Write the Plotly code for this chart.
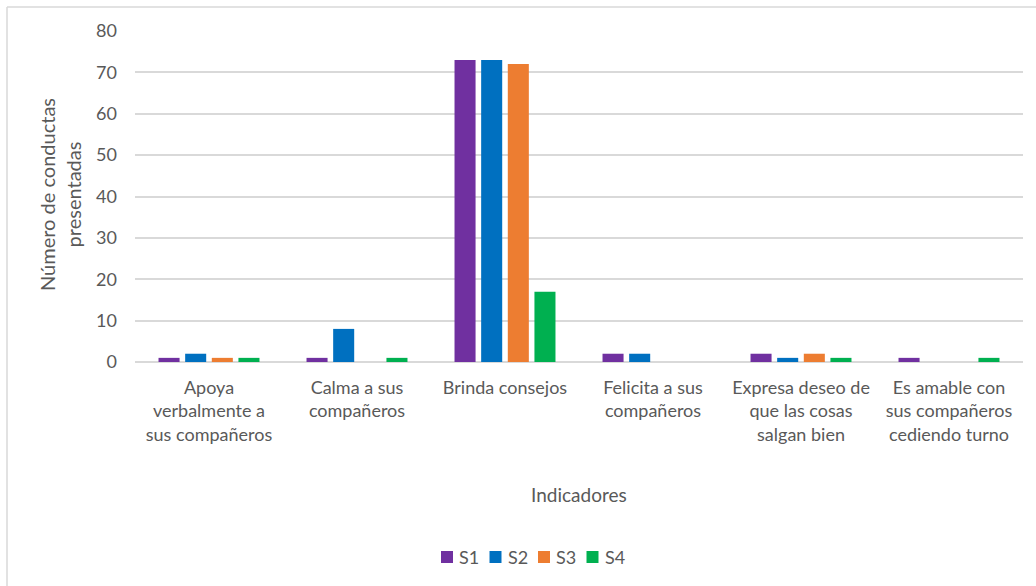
import plotly.graph_objects as go

# Indicadores observados y número de conductas por sesión
categorias = [
    "Apoya<br>verbalmente a<br>sus compañeros",
    "Calma a sus<br>compañeros",
    "Brinda consejos",
    "Felicita a sus<br>compañeros",
    "Expresa deseo de<br>que las cosas<br>salgan bien",
    "Es amable con<br>sus compañeros<br>cediendo turno",
]
s1 = [1, 1, 73, 2, 2, 1]
s2 = [2, 8, 73, 2, 1, 0]
s3 = [1, 0, 72, 0, 2, 0]
s4 = [1, 1, 17, 0, 1, 1]

series = [("S1", s1, "#7030A0"), ("S2", s2, "#0070C0"),
          ("S3", s3, "#ED7D31"), ("S4", s4, "#00B050")]

FONT = "Lato, Calibri, Carlito, sans-serif"
GRAY = "#595959"

fig = go.Figure()
for name, vals, color in series:
    fig.add_trace(go.Bar(x=categorias, y=vals, name=name, showlegend=False,
                         marker=dict(color=color, line=dict(width=0))))

# plot area in pixels: x 135..1023, y 31..362
L, R, T, B = 135, 1023, 31, 362
W, H = 1036, 586
px = lambda x: (x - L) / (R - L)
py = lambda y: (B - y) / (B - T)

shapes = [
    dict(type="line", xref="paper", yref="paper",
         x0=px(7), x1=px(1040), y0=py(7), y1=py(7),
         line=dict(color="#d9d9d9", width=1.5)),
    dict(type="line", xref="paper", yref="paper",
         x0=px(7), x1=px(7), y0=py(7), y1=py(590),
         line=dict(color="#d9d9d9", width=1.5)),
]
annotations = [
    dict(text="Número de conductas<br>presentadas", textangle=-90,
         xref="paper", yref="paper", x=px(60), y=py(195),
         xanchor="center", yanchor="middle", showarrow=False,
         font=dict(size=20, color=GRAY)),
    dict(text="Indicadores", xref="paper", yref="paper",
         x=px(579), y=py(495), xanchor="center", yanchor="middle",
         showarrow=False, font=dict(size=19, color=GRAY)),
]

# Legend row drawn as coloured squares with the series names
legend_x0, legend_step, legend_y = 441, 48.5, 557
for i, (name, _, color) in enumerate(series):
    x = legend_x0 + i * legend_step
    shapes.append(dict(type="rect", xref="paper", yref="paper",
                       x0=px(x), x1=px(x + 12), y0=py(legend_y - 6),
                       y1=py(legend_y + 6), fillcolor=color,
                       line=dict(width=0)))
    annotations.append(dict(text=name, xref="paper", yref="paper",
                            x=px(x + 16), y=py(legend_y), xanchor="left",
                            yanchor="middle", showarrow=False,
                            font=dict(size=18, color=GRAY)))

fig.update_layout(
    width=W, height=H,
    margin=dict(l=L, r=W - R, t=T, b=H - B, pad=0, autoexpand=False),
    paper_bgcolor="white", plot_bgcolor="white",
    barmode="group", bargap=0.28, bargroupgap=0.21,
    font=dict(family=FONT, color=GRAY, size=18),
    showlegend=False,
    xaxis=dict(showgrid=False, showline=False, ticks="", automargin=False,
               tickangle=0,
               tickfont=dict(size=18, color=GRAY), ticklabelstandoff=13,
               fixedrange=True),
    yaxis=dict(range=[0, 80], dtick=10, showgrid=True, gridcolor="#d9d9d9",
               gridwidth=1.5, zeroline=True, zerolinecolor="#d9d9d9",
               zerolinewidth=1.5, showline=False, automargin=False,
               ticks="", ticklabelstandoff=17,
               tickfont=dict(size=18, color=GRAY), fixedrange=True),
    annotations=annotations,
    shapes=shapes,
)

fig.write_html("out.html", config={"displayModeBar": False})
